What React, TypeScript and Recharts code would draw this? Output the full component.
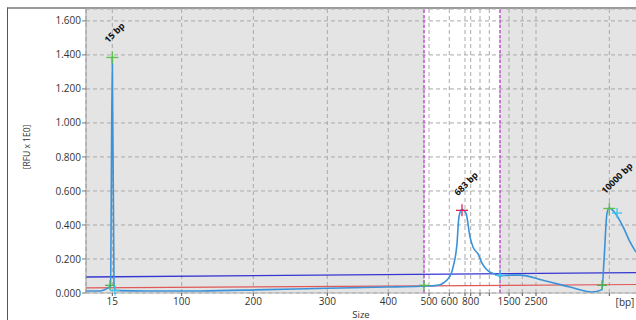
import React from "react";
import {
  ComposedChart,
  Line,
  Scatter,
  XAxis,
  YAxis,
  CartesianGrid,
  ReferenceLine,
} from "recharts";

// migration position (x) -> RFU
const traceX = [
  0, 14, 18, 22, 24.5, 26.3, 28, 29, 32, 60, 114, 180, 241, 300, 334, 351,
  363, 367, 371, 373, 376, 380, 384, 387, 392, 396, 401, 409, 414, 424, 434,
  457, 484, 506, 516, 518, 521, 523.3, 529, 537, 544, 550,
];
const traceRFU = [
  0.012, 0.012, 0.018, 0.03, 0.04, 1.39, 0.05, 0.02, 0.014, 0.012, 0.012,
  0.02, 0.028, 0.035, 0.04, 0.045, 0.09, 0.15, 0.29, 0.45, 0.49, 0.47, 0.33,
  0.27, 0.23, 0.175, 0.135, 0.11, 0.1, 0.105, 0.105, 0.075, 0.035, 0.005,
  0.02, 0.19, 0.47, 0.5, 0.47, 0.39, 0.3, 0.24,
];

const thresholdX = [0, 550];
const thresholdRFU = [0.094, 0.12];
const baselineX = [0, 550];
const baselineRFU = [0.03, 0.05];

// size ladder: position on the migration axis and its label
const sizeTicks = [
  26.3, 95.7, 167.3, 241.3, 302.3, 343, 363.3, 379, 384.7, 394, 403.3, 423,
  436.3, 450, 523.3,
];
const sizeLabels = [
  "15", "100", "200", "300", "400", "500", "600", "", "800", "", "", "1500",
  "", "2500", "",
];

const rfuTicks = [0, 0.2, 0.4, 0.6, 0.8, 1.0, 1.2, 1.4, 1.6];

// analysis region (between the magenta markers)
const regionStart = 338;
const regionEnd = 414;

const markerX = [24, 29, 338, 414, 516, 531];
const markerRFU = [0.045, 0.015, 0.045, 0.104, 0.045, 0.47];
const markerKind = ["start", "end", "start", "end", "start", "end"];

const peakX = [26.3, 376, 523.3];
const peakRFU = [1.385, 0.486, 0.497];
const peakKind = ["ladder", "sample", "ladder"];
const peakLabels = ["15 bp", "683 bp", "10000 bp"];

const markerColor: Record<string, string> = {
  start: "#4cb84c",
  end: "#36c6ee",
  ladder: "#5cc04a",
  sample: "#d8245c",
};

const X_MAX = 550;
const GRAY = "#e4e4e4";
const FONT = "'Open Sans', sans-serif";

const traceData = traceX.map((x, i) => ({ x, v: traceRFU[i] }));
const thresholdData = thresholdX.map((x, i) => ({ x, v: thresholdRFU[i] }));
const baselineData = baselineX.map((x, i) => ({ x, v: baselineRFU[i] }));
const markerData = markerX.map((x, i) => ({ x, v: markerRFU[i], kind: markerKind[i] }));
const peakData = peakX.map((x, i) => ({
  x,
  v: peakRFU[i],
  kind: peakKind[i],
  label: peakLabels[i],
}));

const gridX = [0, ...sizeTicks, regionStart, regionEnd].sort((a, b) => a - b);
const gridFills = gridX.map((p) => (p >= regionStart && p < regionEnd ? "#ffffff" : GRAY));

const Cross = (props: any) => {
  const { cx, cy, payload } = props;
  if (cx == null || cy == null) return null;
  const c = markerColor[payload.kind];
  const s = payload.label ? 6 : 5;
  return (
    <g>
      <line x1={cx - s} x2={cx + s} y1={cy} y2={cy} stroke={c} strokeWidth={1.3} />
      <line x1={cx} x2={cx} y1={cy - s} y2={cy + s} stroke={c} strokeWidth={1.3} />
      {payload.label && (
        <text
          x={cx - 4}
          y={cy - 14}
          transform={`rotate(-45 ${cx - 4} ${cy - 14})`}
          fontSize={9}
          fontWeight="bold"
          fontFamily={FONT}
          fill="#111"
        >
          {payload.label}
        </text>
      )}
    </g>
  );
};

export default function App() {
  return (
    <div style={{ position: "absolute", left: 0, top: 0, width: 636, height: 320, background: "#fff" }}>
      <div
        style={{
          position: "absolute",
          left: 7,
          top: 7,
          width: 629,
          height: 313,
          borderLeft: "1px solid #555",
          borderTop: "2px solid #999",
        }}
      />
      <div style={{ position: "absolute", left: 0, top: 0 }}>
        <ComposedChart width={636} height={320} margin={{ top: 9, right: 0, bottom: 0, left: 0 }}>
          <CartesianGrid
            strokeDasharray="4 3"
            stroke="#a9a9a9"
            verticalFill={gridFills}
            fillOpacity={1}
            verticalCoordinatesGenerator={({ xAxis, offset }: any) =>
              gridX.map((v) =>
                xAxis && typeof xAxis.scale === "function"
                  ? xAxis.scale(v)
                  : offset.left + (v * offset.width) / X_MAX
              )
            }
          />
          <XAxis
            dataKey="x"
            type="number"
            domain={[0, X_MAX]}
            ticks={sizeTicks}
            interval={0}
            allowDataOverflow
            height={27}
            tickSize={3}
            tickLine={{ stroke: "#555" }}
            axisLine={{ stroke: "#b0b0b0" }}
            tick={{ fontSize: 10, fill: "#333", fontFamily: FONT }}
            tickFormatter={(v: number) => sizeLabels[sizeTicks.indexOf(v)] ?? ""}
            label={{
              content: (p: any) => {
                const vb = p.viewBox || { x: 86, y: 293, width: 550 };
                return (
                  <g fontFamily={FONT} fill="#333">
                    <text x={vb.x + vb.width / 2} y={vb.y + 25} textAnchor="middle" fontSize={9.5}>
                      Size
                    </text>
                    <text x={vb.x + vb.width - 11} y={vb.y + 13} textAnchor="middle" fontSize={10}>
                      [bp]
                    </text>
                  </g>
                );
              },
            }}
          />
          <YAxis
            dataKey="v"
            type="number"
            domain={[0, 1.67]}
            ticks={rfuTicks}
            interval={0}
            width={86}
            tickSize={4}
            tickMargin={1}
            tickLine={{ stroke: "#777" }}
            axisLine={{ stroke: "#999" }}
            tick={{ fontSize: 10, fill: "#333", fontFamily: FONT }}
            tickFormatter={(v: number) => v.toFixed(3)}
            label={{
              content: (p: any) => {
                const vb = p.viewBox || { x: 0, y: 9, width: 86, height: 284 };
                const cx = vb.x + 26;
                const cy = vb.y + vb.height / 2 - 4;
                return (
                  <text
                    x={cx}
                    y={cy}
                    transform={`rotate(-90 ${cx} ${cy})`}
                    textAnchor="middle"
                    dominantBaseline="central"
                    fontSize={8.5}
                    fontFamily={FONT}
                    fill="#333"
                  >
                    [RFU x 1E0]
                  </text>
                );
              },
            }}
          />
          <ReferenceLine x={regionStart} stroke="#cc55dd" strokeWidth={1.5} strokeDasharray="3 2" />
          <ReferenceLine x={regionEnd} stroke="#cc55dd" strokeWidth={1.5} strokeDasharray="3 2" />
          <Line
            data={baselineData}
            dataKey="v"
            type="linear"
            stroke="#e05858"
            strokeWidth={1.2}
            dot={false}
            isAnimationActive={false}
          />
          <Line
            data={thresholdData}
            dataKey="v"
            type="linear"
            stroke="#3535d2"
            strokeWidth={1.3}
            dot={false}
            isAnimationActive={false}
          />
          <Line
            data={traceData}
            dataKey="v"
            type="monotone"
            stroke="#3b92d8"
            strokeWidth={1.6}
            dot={false}
            isAnimationActive={false}
          />
          <Scatter data={markerData} dataKey="v" shape={Cross} isAnimationActive={false} />
          <Scatter data={peakData} dataKey="v" shape={Cross} isAnimationActive={false} />
        </ComposedChart>
      </div>
    </div>
  );
}
